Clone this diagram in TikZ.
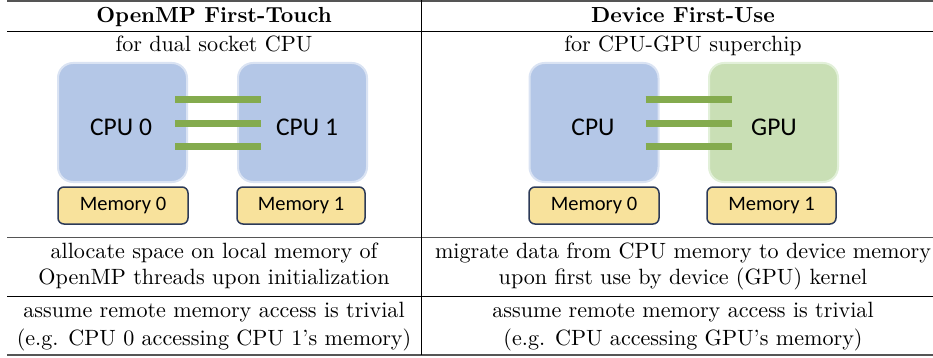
\documentclass[tikz,border=0pt]{standalone}
\usepackage{fontspec}
\setmainfont{lmroman10-regular.otf}[BoldFont=lmroman10-bold.otf]
\newfontfamily\calib{Carlito}
\definecolor{cpublue}{HTML}{B4C7E7}
\definecolor{cpuedge}{HTML}{DAE3F3}
\definecolor{gpugreen}{HTML}{C9DFB5}
\definecolor{gpuedge}{HTML}{E2F0D9}
\definecolor{barg}{HTML}{84AB4E}
\definecolor{memfill}{HTML}{F8E29C}
\definecolor{memedge}{HTML}{2C3A58}
\definecolor{rulegray}{HTML}{555555}
\tikzset{
  chip/.style={rounded corners=15pt, line width=2pt, minimum width=129pt, minimum height=119pt, inner sep=0pt},
  cpubox/.style={chip, fill=cpublue, draw=cpuedge},
  gpubox/.style={chip, fill=gpugreen, draw=gpuedge},
  chiptext/.style={font=\calib\fontsize{25.5}{28}\selectfont, inner sep=0pt},
  membox/.style={rounded corners=6pt, line width=1.5pt, fill=memfill, draw=memedge, minimum height=37pt, inner sep=0pt, font=\calib\fontsize{20.5}{22}\selectfont},
  bar/.style={barg, line width=7pt},
  hdr/.style={font=\bfseries\fontsize{21.8}{24}\selectfont, anchor=base, inner sep=0pt},
  txt/.style={font=\fontsize{22.1}{25}\selectfont, anchor=base, inner sep=0pt},
  thickrule/.style={rulegray, line width=1.6pt},
  thinrule/.style={black, line width=0.8pt},
  grayrule/.style={rulegray, line width=0.9pt}
}
\begin{document}
\begin{tikzpicture}[x=1pt, y=-1pt]
\useasboundingbox (0,0) rectangle (933,358);
% table rules
\draw[thickrule] (7,1.2) -- (933,1.2);
\draw[thinrule] (7,31.5) -- (933,31.5);
\draw[grayrule] (7,237) -- (933,237);
\draw[thinrule] (7,296) -- (933,296);
\draw[thickrule] (7,354.8) -- (933,354.8);
\draw[thinrule] (421,0) -- (421,354.8);

% headers
\node[hdr] (h1) at (214,23) {OpenMP First-Touch};
\node[hdr] (h2) at (683,23) {Device First-Use};
\node[txt] (s1) at (214,52) {for dual socket CPU};
\node[txt] (s2) at (683,52) {for CPU-GPU superchip};

% left diagram
\node[cpubox] (cpu0) at (122.5,122.5) {};
\node[cpubox] (cpu1) at (302.5,122.5) {};
\node[chiptext] (cpu0t) at ([xshift=-1.5pt,yshift=-4.5pt]cpu0.center) {CPU 0};
\node[chiptext] (cpu1t) at ([xshift=4.5pt,yshift=-4.5pt]cpu1.center) {CPU 1};
\foreach \dy in {22.5,-1.5,-24.5}{
  \draw[bar] ([xshift=-13pt,yshift=\dy pt]cpu0.east) -- ([xshift=24pt,yshift=\dy pt]cpu1.west);
}
\node[membox, minimum width=130pt] (m0l) at (123,205.5) {Memory 0};
\node[membox, minimum width=128pt] (m1l) at (301,205.5) {Memory 1};

% right diagram
\node[cpubox] (cpur) at (594,122.5) {};
\node[gpubox] (gpur) at (773.5,122.5) {};
\node[chiptext] (cpurt) at ([xshift=-1pt,yshift=-4.5pt]cpur.center) {CPU};
\node[chiptext] (gpurt) at ([xshift=0.5pt,yshift=-4.5pt]gpur.center) {GPU};
\foreach \dy in {22.5,-1.5,-24.5}{
  \draw[bar] ([xshift=-14pt,yshift=\dy pt]cpur.east) -- ([xshift=24pt,yshift=\dy pt]gpur.west);
}
\node[membox, minimum width=130pt] (m0r) at (594,205.5) {Memory 0};
\node[membox, minimum width=129pt] (m1r) at (771.5,205.5) {Memory 1};

% rows
\node[txt] (a1) at (214,258) {allocate space on local memory of};
\node[txt] (a2) at (214,284) {OpenMP threads upon initialization};
\node[txt] (b1) at (683,258) {migrate data from CPU memory to device memory};
\node[txt] (b2) at (683,284) {upon first use by device (GPU) kernel};
\node[txt] (c1) at (214,317) {assume remote memory access is trivial};
\node[txt] (c2) at (214,345) {(e.g. CPU 0 accessing CPU 1's memory)};
\node[txt] (d1) at (683,317) {assume remote memory access is trivial};
\node[txt] (d2) at (683,345) {(e.g. CPU accessing GPU's memory)};
\end{tikzpicture}
\end{document}
